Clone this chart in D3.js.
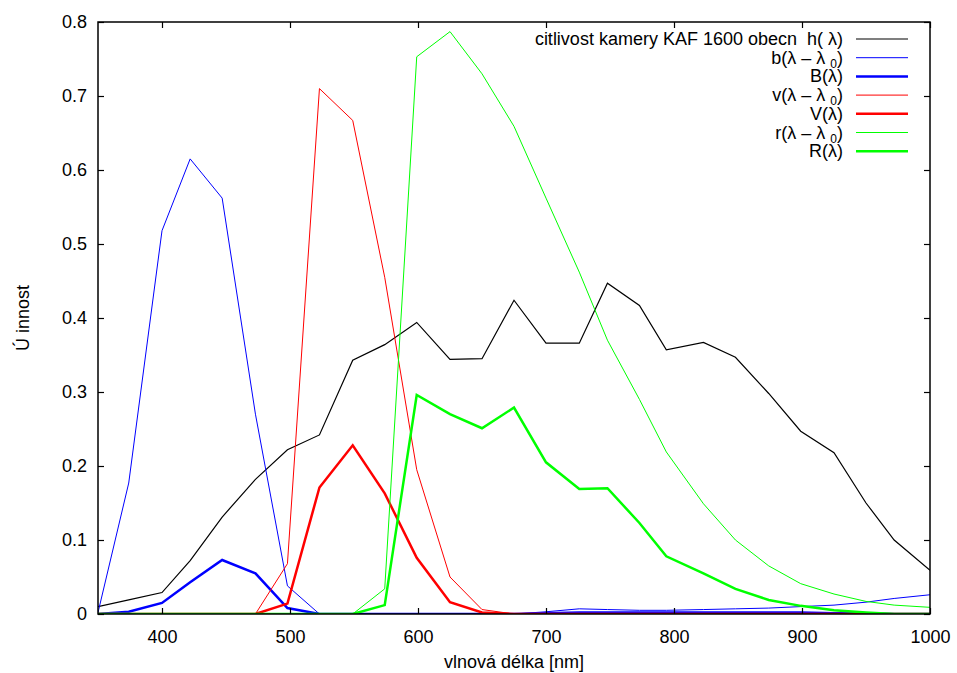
<!DOCTYPE html>
<html>
<head>
<meta charset="utf-8">
<script src="https://cdn.jsdelivr.net/npm/d3@7"></script>
<style>
    body { margin: 0; background: #fff; }
    text { font-family: "Liberation Sans", Arial, sans-serif; }
</style>
</head>
<body>
<div id="chart"></div>
<script>
// wavelengths [nm] of the sampled points
var wl = [350, 374, 400, 422, 447, 473, 498, 523, 549, 574, 599, 625, 650, 675,
          700, 726, 748, 773, 794, 823, 848, 874, 899, 925, 950, 972, 1000];

var hVals = [0.010, 0.019, 0.029, 0.072, 0.131, 0.182, 0.222, 0.242, 0.343, 0.364, 0.394, 0.344, 0.345, 0.424,
             0.366, 0.366, 0.447, 0.417, 0.357, 0.367, 0.347, 0.298, 0.247, 0.218, 0.150, 0.100, 0.059];
var bVals = [0.002, 0.177, 0.518, 0.615, 0.562, 0.270, 0.038, 0.000, 0.000, 0.000, 0.000, 0.000, 0.000, 0.000,
             0.003, 0.007, 0.006, 0.005, 0.005, 0.006, 0.007, 0.008, 0.010, 0.012, 0.016, 0.021, 0.026];
var BVals = [0.000, 0.003, 0.015, 0.043, 0.073, 0.055, 0.008, 0.000, 0.000, 0.000, 0.000, 0.000, 0.000, 0.000,
             0.001, 0.002, 0.002, 0.002, 0.002, 0.002, 0.002, 0.002, 0.002, 0.001, 0.001, 0.000, 0.000];
var vVals = [0.000, 0.000, 0.000, 0.000, 0.000, 0.000, 0.068, 0.710, 0.667, 0.455, 0.195, 0.050, 0.006, 0.000,
             0.000, 0.000, 0.000, 0.000, 0.000, 0.000, 0.000, 0.000, 0.000, 0.000, 0.000, 0.000, 0.000];
var VVals = [0.000, 0.000, 0.000, 0.000, 0.000, 0.000, 0.014, 0.171, 0.228, 0.163, 0.076, 0.016, 0.002, 0.000,
             0.000, 0.000, 0.000, 0.000, 0.000, 0.000, 0.000, 0.000, 0.000, 0.000, 0.000, 0.000, 0.000];
var rVals = [0.000, 0.000, 0.000, 0.000, 0.000, 0.000, 0.000, 0.000, 0.000, 0.034, 0.753, 0.787, 0.730, 0.659,
             0.562, 0.462, 0.370, 0.290, 0.219, 0.149, 0.100, 0.065, 0.041, 0.027, 0.017, 0.012, 0.009];
var RVals = [0.000, 0.000, 0.000, 0.000, 0.000, 0.000, 0.000, 0.000, 0.000, 0.012, 0.296, 0.270, 0.251, 0.279,
             0.205, 0.169, 0.170, 0.123, 0.078, 0.055, 0.034, 0.019, 0.011, 0.005, 0.002, 0.000, 0.000];

var xTicks = [400, 500, 600, 700, 800, 900, 1000];
var yTicks = [0, 0.1, 0.2, 0.3, 0.4, 0.5, 0.6, 0.7, 0.8];

// legend: label, optional subscript + tail
var series = [
    { label: "citlivost kamery KAF 1600 obecn\u00a0 h( \u03bb)", values: hVals, color: "#000000", width: 1.2 },
    { label: "b(\u03bb \u2013 \u03bb ", sub: "0", tail: ")", values: bVals, color: "#0000ff", width: 1 },
    { label: "B(\u03bb)", values: BVals, color: "#0000ff", width: 2.5 },
    { label: "v(\u03bb \u2013 \u03bb ", sub: "0", tail: ")", values: vVals, color: "#ff0000", width: 1 },
    { label: "V(\u03bb)", values: VVals, color: "#ff0000", width: 2.5 },
    { label: "r(\u03bb \u2013 \u03bb ", sub: "0", tail: ")", values: rVals, color: "#00ff00", width: 1 },
    { label: "R(\u03bb)", values: RVals, color: "#00ff00", width: 2.5 }
];

var w = 957, h = 673;
var pLeft = 98, pRight = 930, pTop = 22, pBottom = 614;
var fontSize = 18;

var svg = d3.select("#chart").append("svg")
    .attr("width", w)
    .attr("height", h);

var xScale = d3.scaleLinear([350, 1000], [pLeft, pRight]);
var yScale = d3.scaleLinear([0, 0.8], [pBottom, pTop]);

svg.append("defs").append("clipPath").attr("id", "plotclip")
    .append("rect")
    .attr("x", pLeft).attr("y", pTop - 2)
    .attr("width", pRight - pLeft).attr("height", pBottom - pTop + 2);

var line = d3.line()
    .x(function (d) { return xScale(d[0]); })
    .y(function (d) { return yScale(d[1]); });

var plot = svg.append("g").attr("clip-path", "url(#plotclip)");

series.forEach(function (s) {
    var pts = wl.map(function (x, i) { return [x, s.values[i]]; });
    plot.append("path")
        .attr("d", line(pts))
        .attr("fill", "none")
        .attr("stroke", s.color)
        .attr("stroke-width", s.width);
});

// axes with inward ticks, mirrored on top/right
var tickLen = 6;
var xAxis = d3.axisBottom(xScale).tickValues(xTicks).tickSize(-tickLen).tickPadding(16).tickFormat(d3.format("d"));
var xAxisTop = d3.axisTop(xScale).tickValues(xTicks).tickSize(-tickLen).tickFormat("");
var yAxis = d3.axisLeft(yScale).tickValues(yTicks).tickSize(-tickLen).tickPadding(11)
    .tickFormat(function (d) { return d === 0 ? "0" : d3.format(".1f")(d); });
var yAxisRight = d3.axisRight(yScale).tickValues(yTicks).tickSize(-tickLen).tickFormat("");

function styleAxis(g) {
    g.select(".domain").remove();
    g.selectAll(".tick line").attr("stroke", "#000").attr("stroke-width", 1.2);
    g.selectAll(".tick text").attr("fill", "#000")
        .style("font-family", "'Liberation Sans', Arial, sans-serif")
        .style("font-size", fontSize + "px");
}

svg.append("g").attr("transform", "translate(0," + pBottom + ")").call(xAxis).call(styleAxis);
svg.append("g").attr("transform", "translate(0," + pTop + ")").call(xAxisTop).call(styleAxis);
svg.append("g").attr("transform", "translate(" + pLeft + ",0)").call(yAxis).call(styleAxis);
svg.append("g").attr("transform", "translate(" + pRight + ",0)").call(yAxisRight).call(styleAxis);

// frame
svg.append("rect")
    .attr("x", pLeft).attr("y", pTop)
    .attr("width", pRight - pLeft).attr("height", pBottom - pTop)
    .attr("fill", "none")
    .attr("stroke", "#000")
    .attr("stroke-width", 1.5);

// axis titles
svg.append("text")
    .attr("x", (pLeft + pRight) / 2)
    .attr("y", 668)
    .attr("text-anchor", "middle")
    .style("font-size", fontSize + "px")
    .text("vlnová délka [nm]");

svg.append("text")
    .attr("transform", "translate(29," + ((pTop + pBottom) / 2) + ") rotate(-90)")
    .attr("text-anchor", "middle")
    .style("font-size", fontSize + "px")
    .text("Ú innost");

// legend
var legend = svg.append("g");
series.forEach(function (s, i) {
    var y = 39 + i * 18.7;
    var t = legend.append("text")
        .attr("x", 843)
        .attr("y", y + 6)
        .attr("text-anchor", "end")
        .style("font-size", fontSize + "px");
    t.append("tspan").text(s.label);
    if (s.sub) {
        t.append("tspan").attr("dy", 4).style("font-size", "12px").text(s.sub);
        t.append("tspan").attr("dy", -4).text(s.tail);
    }
    legend.append("line")
        .attr("x1", 856).attr("x2", 908)
        .attr("y1", y).attr("y2", y)
        .attr("stroke", s.color)
        .attr("stroke-width", s.width);
});
</script>
</body>
</html>
